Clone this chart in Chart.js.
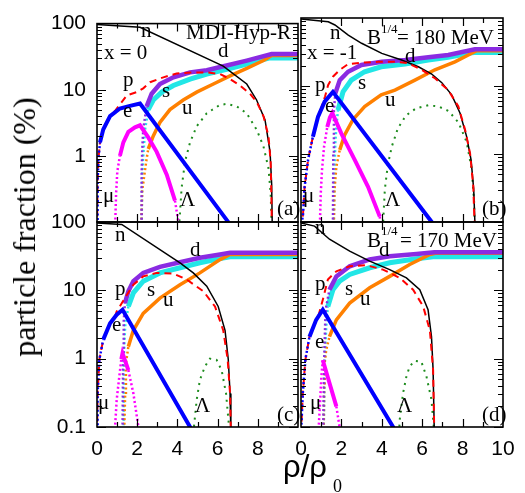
<!DOCTYPE html>
<html>
<head>
<meta charset="utf-8">
<script src="https://cdn.jsdelivr.net/npm/chart.js@4.4.1/dist/chart.umd.min.js"></script>
<style>
  body { margin: 0; background: #fff; }
  #wrap { position: relative; width: 525px; height: 493px; overflow: hidden; font-family: "Liberation Serif", "Times New Roman", serif; }
  #wrap canvas { position: absolute; left: 0; top: 0; }
  .t { position: absolute; white-space: nowrap; line-height: 1; color: #000; }
</style>
</head>
<body>
<div id="wrap">
  <canvas id="cA" width="525" height="493"></canvas>
  <canvas id="cB" width="525" height="493"></canvas>
  <canvas id="cC" width="525" height="493"></canvas>
  <canvas id="cD" width="525" height="493"></canvas>
</div>
<script>
// particle fractions (%) vs rho/rho0, pairs of [rho/rho0, fraction]
// panel (a): MDI-Hyp-R, x = 0, B^1/4 = 180 MeV
const a_n = [[0,97],[2.14,88],[6.28,22.7],[7.45,12.2],[7.94,7.0],[8.36,3.5],[8.61,1.15],[8.69,0.37],[8.72,0.08]];
const a_p = [[0,0.08],[0.03,0.4],[0.07,0.9],[0.15,1.6],[0.31,2.5],[0.65,4],[0.9,4.8],[1.48,8.2],[1.98,9.2],[2.3,10.5],[2.64,13],[3.3,15.4],[3.96,17.6],[4.79,18.3],[5.46,18.3],[6.12,17.3],[6.62,14.5],[7.11,11.6],[7.61,8.7],[7.94,6.6],[8.28,4],[8.53,2.0],[8.64,0.82],[8.68,0.21],[8.7,0.08]];
const a_e = [[0,0.08],[0.03,0.4],[0.07,0.9],[0.15,1.6],[0.31,2.5],[0.65,4],[1.14,5.2],[1.64,5.7],[2.14,6.2],[6.53,0.1],[6.6,0.08]];
const a_mu = [[0.9,0.08],[0.95,0.27],[1.01,0.58],[1.14,1.0],[1.31,1.6],[1.56,2.3],[1.89,2.7],[2.14,2.9],[2.55,1.9],[2.97,1.15],[3.47,0.52],[3.88,0.21],[4.05,0.1],[4.1,0.08]];
const a_lam = [[4.08,0.08],[4.21,0.33],[4.38,0.82],[4.63,1.6],[4.96,2.8],[5.46,4.4],[6.12,5.9],[6.45,6.1],[6.95,5.6],[7.45,4.4],[7.94,2.5],[8.28,1.4],[8.53,0.65],[8.64,0.27],[8.69,0.08]];
const a_d = [[2.2,0.08],[2.22,0.5],[2.25,1.2],[2.3,2.5],[2.47,5.6],[2.72,8.7],[3.13,12.2],[3.8,15.4],[4.63,18.3],[5.46,19.7],[6.45,23.3],[7.45,27.6],[8.69,34.7],[10,34.7]];
const a_s = [[2.22,0.08],[2.25,0.5],[2.3,1.0],[2.39,2.5],[2.55,5],[2.8,7],[3.22,9.2],[3.8,11.6],[4.63,14.5],[5.46,17.3],[6.45,20.4],[7.45,24.5],[8.6,30.3],[10,30.3]];
const a_u = [[2.2,0.08],[2.25,0.3],[2.35,0.5],[2.47,0.91],[2.55,1.27],[2.8,2.0],[3.13,3.2],[3.63,5],[4.29,7],[4.96,9.2],[5.79,12.2],[6.62,16.2],[7.45,21],[8.28,27.6],[8.69,33],[10,33]];

// panel (b): x = -1, B^1/4 = 180 MeV
const b_n = [[0,97],[1.35,88],[1.68,79],[2.34,56],[3.0,42.5],[4.0,30.2],[4.98,24.1],[5.81,19.2],[6.47,15],[6.97,11.2],[7.46,7.4],[7.87,4],[8.2,1.8],[8.42,0.82],[8.55,0.3],[8.62,0.08]];
const b_p = [[0,0.08],[0.1,0.13],[0.18,0.33],[0.35,0.82],[0.59,1.8],[0.84,3.5],[0.93,4.1],[1.19,7],[1.34,10.3],[1.58,13.7],[1.92,17.3],[2.33,21],[3.0,22],[3.83,22.7],[4.65,22.7],[5.31,21.6],[5.98,17.3],[6.63,13],[7.29,8.7],[7.79,5],[8.12,2.3],[8.37,1.02],[8.53,0.33],[8.6,0.08]];
const b_e = [[0,0.08],[0.1,0.13],[0.18,0.33],[0.35,0.82],[0.59,1.8],[0.84,3.5],[1.17,5.9],[1.58,8.2],[6.47,0.1],[6.55,0.08]];
const b_mu = [[0.93,0.08],[0.98,0.27],[1.04,0.58],[1.14,1.27],[1.3,2.5],[1.43,3.45],[1.55,4.0],[2.0,2.0],[2.66,0.82],[3.32,0.33],[3.9,0.12],[3.95,0.08]];
const b_lam = [[4.05,0.08],[4.15,0.3],[4.3,0.7],[4.5,1.3],[4.8,2.4],[5.2,3.7],[5.7,4.7],[6.3,5.2],[6.8,5.0],[7.3,4.3],[7.8,2.9],[8.2,1.5],[8.45,0.6],[8.57,0.2],[8.6,0.08]];
const b_d = [[1.58,0.08],[1.6,1],[1.63,4.4],[1.7,7.8],[1.92,12.2],[2.33,16.2],[2.99,20.4],[4.0,22.7],[5.15,24.1],[6.3,26.4],[7.29,28.5],[8.61,34.7],[10,34.7]];
const b_s = [[1.62,0.08],[1.65,0.5],[1.7,1.5],[1.75,2.5],[1.83,4.4],[2.08,8.2],[2.49,12.2],[3.15,16.2],[3.97,19.2],[5.15,21],[6.3,24.1],[7.29,26.4],[8.45,30.8],[8.6,31],[10,31]];
const b_u = [[1.62,0.08],[1.66,0.3],[1.75,0.65],[1.92,1.15],[2.16,1.9],[2.57,3.2],[3.15,5],[3.97,7.4],[4.65,8.7],[5.64,12.2],[6.63,17.3],[7.62,22.7],[8.45,30.3],[8.7,33],[10,33]];

// panel (c): x = 0, B_d^1/4 = 170 MeV
const c_n = [[0,97],[1.23,92],[4.13,25.3],[4.79,18],[5.46,11.5],[6.03,5.8],[6.37,2.6],[6.53,0.98],[6.62,0.31],[6.66,0.08]];
const c_p = [[0,0.08],[0.03,0.31],[0.12,0.98],[0.31,1.9],[0.65,3.3],[0.88,4.0],[0.98,4.9],[1.39,7.7],[1.81,12.1],[2.3,16],[2.97,18],[3.8,17.6],[4.46,14.4],[5.29,9.7],[5.87,5.8],[6.28,2.6],[6.5,0.98],[6.62,0.31],[6.66,0.08]];
const c_e = [[0,0.08],[0.03,0.31],[0.12,0.98],[0.31,1.9],[0.65,3.3],[0.98,4.4],[1.27,5.2],[4.63,0.1],[4.7,0.08]];
const c_mu = [[0.88,0.08],[0.98,0.25],[1.11,0.55],[1.21,0.98],[1.27,1.2],[1.56,0.68],[1.81,0.31],[2.06,0.1],[2.08,0.08]];
const c_lam = [[4.79,0.08],[4.96,0.25],[5.12,0.49],[5.37,0.77],[5.62,1.0],[5.95,0.96],[6.2,0.68],[6.42,0.31],[6.6,0.08]];
const c_d = [[1.27,0.08],[1.3,1],[1.33,3.5],[1.39,6.5],[1.56,9.7],[1.81,13.6],[2.3,18],[3.13,22],[4.13,25.8],[5.12,30],[6.12,33.5],[6.62,35.5],[10,35.5]];
const c_s = [[1.3,0.08],[1.33,1],[1.4,3],[1.56,5.8],[1.81,9.2],[2.3,13.6],[3.13,18],[4.13,21.4],[5.12,25.3],[6.12,29.2],[6.62,31],[10,31]];
const c_u = [[1.35,0.08],[1.4,0.3],[1.44,0.86],[1.56,1.5],[1.81,2.6],[2.3,4.6],[3.13,7.7],[4.13,12.1],[5.12,18],[6.12,28.2],[6.62,33.5],[10,33.5]];

// panel (d): x = -1, B_d^1/4 = 170 MeV
const d_n = [[0,97],[0.67,87],[1.41,56],[2.41,37.5],[3.4,26.7],[4.39,20.1],[5.22,15.2],[5.88,10.2],[6.29,5.2],[6.46,2.1],[6.54,0.68],[6.6,0.08]];
const d_p = [[0,0.08],[0.09,0.31],[0.22,0.98],[0.42,2.1],[0.75,3.7],[0.86,4.2],[1.08,7.3],[1.33,14.4],[1.75,19],[2.41,22.5],[3.24,23.3],[4.06,20.1],[4.89,15.2],[5.55,10.2],[6.05,5.8],[6.38,2.6],[6.54,0.68],[6.6,0.08]];
const d_e = [[0,0.08],[0.09,0.31],[0.22,0.98],[0.42,2.1],[0.75,3.7],[1.08,5.2],[4.56,0.1],[4.62,0.08]];
const d_mu = [[0.86,0.08],[0.95,0.25],[1.01,0.55],[1.08,0.95],[1.41,0.44],[1.75,0.2],[1.91,0.1],[1.93,0.08]];
const d_lam = [[4.85,0.08],[4.89,0.13],[5.05,0.31],[5.22,0.55],[5.38,0.77],[5.63,0.93],[5.96,0.9],[6.21,0.55],[6.46,0.25],[6.6,0.08]];
const d_d = [[1.1,0.08],[1.15,1],[1.2,3.5],[1.25,5.8],[1.41,10.2],[1.75,16],[2.41,22.5],[3.4,28.3],[4.39,31.6],[5.72,34],[6.6,36],[10,36]];
const d_s = [[1.12,0.08],[1.18,1],[1.25,3],[1.33,5.8],[1.58,10.2],[1.91,13.6],[2.41,17.1],[3.4,21.4],[4.39,25.3],[5.72,29],[6.54,31],[10,31]];
const d_u = [[1.12,0.08],[1.15,0.4],[1.17,0.86],[1.25,1.35],[1.41,2.1],[1.75,3.7],[2.41,6.5],[3.4,10.9],[4.39,16],[5.38,23.9],[6.38,33.5],[6.7,35],[10,35]];

const xTicks = [0, 2, 4, 6, 8, 10];
const yTicks = [0.1, 1, 10, 100];

// looks per species, first drawn on top
const looks = {
  e:   { color: '#0000ff', width: 4,   steep: true },
  p:   { color: '#ff0000', width: 2,   dash: [7, 5] },
  n:   { color: '#000000', width: 1.5 },
  mu:  { color: '#ff00ff', width: 4,   steep: true },
  d:   { color: '#8a2be2', width: 4.5, steep: true },
  u:   { color: '#ff8000', width: 3.5, steep: true },
  s:   { color: '#22e6e6', width: 5,   steep: true },
  lam: { color: '#1e8c1e', width: 2,   dash: [2, 5] }
};

// near-vertical pieces show up as a column of dots in the original
const isSteep = c => {
  const dx = Math.abs(c.p1.x - c.p0.x), dy = Math.abs(c.p1.y - c.p0.y);
  return dy > 8 && dy > 4 * dx;
};
const steepSeg = {
  borderDash: c => isSteep(c) ? [2, 2.5] : undefined,
  borderWidth: c => isSteep(c) ? 2.5 : undefined
};

const frameTicks = {
  id: 'frameTicks',
  afterDraw(chart) {
    const { ctx, chartArea: a, scales: { x, y } } = chart;
    ctx.save();
    ctx.strokeStyle = '#000';
    ctx.lineWidth = 1.2;
    ctx.beginPath();
    for (let d = -1; d <= 1; d++) {
      for (let k = 1; k <= 9; k++) {
        const v = k * Math.pow(10, d);
        const py = Math.round(y.getPixelForValue(v)) + 0.5, len = k === 1 ? 9 : 5;
        ctx.moveTo(a.left, py); ctx.lineTo(a.left + len, py);
        ctx.moveTo(a.right, py); ctx.lineTo(a.right - len, py);
      }
    }
    for (let v = 1; v < 10; v++) {
      const px = Math.round(x.getPixelForValue(v)) + 0.5, len = v % 2 ? 5 : 8;
      ctx.moveTo(px, a.bottom); ctx.lineTo(px, a.bottom - len);
      ctx.moveTo(px, a.top); ctx.lineTo(px, a.top + len);
    }
    ctx.stroke();
    ctx.lineWidth = 1.6;
    ctx.strokeRect(a.left, a.top, a.right - a.left, a.bottom - a.top);
    ctx.restore();
  }
};

const tickFont = { family: '"Liberation Sans", Arial, sans-serif', size: 21 };

function makePanel(id, curves, opt) {
  const order = ['e', 'p', 'n', 'mu', 'd', 'u', 's', 'lam'];
  const datasets = order.map(k => {
    const L = looks[k];
    return {
      label: k,
      data: curves[k].map(([x, y]) => ({ x, y })),
      borderColor: L.color,
      borderWidth: L.width,
      borderDash: L.dash || [],
      pointRadius: 0,
      tension: 0,
      fill: false,
      clip: 0,
      segment: L.steep ? steepSeg : {}
    };
  });
  return new Chart(document.getElementById(id), {
    type: 'line',
    data: { datasets },
    options: {
      responsive: false,
      animation: false,
      events: [],
      layout: { padding: opt.pad },
      plugins: { legend: { display: false }, tooltip: { enabled: false } },
      scales: {
        x: {
          type: 'linear', min: 0, max: 10,
          display: opt.xLabels,
          afterBuildTicks: s => { s.ticks = xTicks.map(v => ({ value: v })); },
          afterFit: s => { s.height = opt.xLabels ? 66 : 0; },
          grid: { display: false, drawTicks: false },
          border: { display: false },
          ticks: {
            font: tickFont, color: '#000', padding: 10, maxRotation: 0, autoSkip: false,
            callback: v => (opt.hide10 && v === 10) ? '' : String(v)
          }
        },
        y: {
          type: 'logarithmic', min: 0.1, max: 100,
          display: opt.yLabels,
          afterBuildTicks: s => { s.ticks = yTicks.map(v => ({ value: v })); },
          afterFit: s => { s.width = opt.yLabels ? 97 : 0; },
          grid: { display: false, drawTicks: false },
          border: { display: false },
          ticks: {
            font: tickFont, color: '#000', padding: 11, autoSkip: false,
            callback: v => (opt.hide01 && v === 0.1) ? '' : String(v)
          }
        }
      }
    },
    plugins: [frameTicks]
  });
}

makePanel('cA', { n: a_n, p: a_p, e: a_e, mu: a_mu, lam: a_lam, d: a_d, s: a_s, u: a_u },
  { pad: { left: 0, top: 18, right: 227, bottom: 271 }, xLabels: false, yLabels: true, hide01: true });
makePanel('cB', { n: b_n, p: b_p, e: b_e, mu: b_mu, lam: b_lam, d: b_d, s: b_s, u: b_u },
  { pad: { left: 301, top: 18, right: 22, bottom: 271 }, xLabels: false, yLabels: false });
makePanel('cC', { n: c_n, p: c_p, e: c_e, mu: c_mu, lam: c_lam, d: c_d, s: c_s, u: c_u },
  { pad: { left: 0, top: 222, right: 227, bottom: 0 }, xLabels: true, yLabels: true, hide10: true });
makePanel('cD', { n: d_n, p: d_p, e: d_e, mu: d_mu, lam: d_lam, d: d_d, s: d_s, u: d_u },
  { pad: { left: 301, top: 222, right: 22, bottom: 0 }, xLabels: true, yLabels: false });

// text: [text, left, baseline, size, font]
const serif = '"Liberation Serif", "Times New Roman", serif';
const sans = '"Liberation Sans", Arial, sans-serif';
const notes = [
  ['n', 141, 38, 21], ['MDI-Hyp-R', 186, 40, 21], ['x = 0', 104, 60, 21], ['d', 218, 58, 21],
  ['p', 123, 87, 21], ['s', 162, 98, 21], ['u', 182, 115, 21], ['e', 123, 118, 21],
  ['μ', 103, 203, 21], ['Λ', 180, 207, 21], ['(a)', 277, 216, 21],
  ['n', 330, 40, 21], ['x = -1', 307, 60, 21], ['d', 405, 63, 21], ['p', 315, 92, 21],
  ['e', 325, 113, 21], ['s', 358, 90, 21], ['u', 385, 107, 21], ['μ', 303, 203, 21],
  ['Λ', 385, 207, 21], ['(b)', 482, 216, 21],
  ['B', 367, 45, 21], ['1/4', 381, 33, 13], ['= 180 MeV', 397, 45, 21],
  ['n', 115, 242, 21], ['d', 190, 257, 21], ['p', 115, 296, 21], ['s', 147, 297, 21],
  ['u', 163, 307, 21], ['e', 112, 332, 21], ['μ', 98, 410, 21], ['Λ', 195, 413, 21],
  ['(c)', 277, 422, 21],
  ['n', 315, 235, 21], ['p', 315, 291, 21], ['s', 345, 296, 21], ['u', 360, 306, 21],
  ['e', 315, 349, 21], ['μ', 310, 410, 21], ['Λ', 397, 413, 21], ['(d)', 482, 422, 21],
  ['B', 367, 248, 21], ['1/4', 381, 235, 13], ['d', 379, 257, 21], ['= 170 MeV', 400, 248, 21],
  ['ρ/ρ', 283, 478, 31, sans], ['0', 333, 492, 18]
];
const wrap = document.getElementById('wrap');
notes.forEach(([txt, left, base, size, fam]) => {
  const el = document.createElement('div');
  el.className = 't';
  el.textContent = txt;
  el.style.fontFamily = fam || serif;
  el.style.fontSize = size + 'px';
  el.style.left = left + 'px';
  el.style.top = (base - Math.round(size * (fam ? 0.86 : 0.84))) + 'px';
  wrap.appendChild(el);
});
const ytitle = document.createElement('div');
ytitle.className = 't';
ytitle.textContent = 'particle fraction (%)';
ytitle.style.cssText += 'font-size:32px;left:24px;top:227px;transform:translate(-50%,-50%) rotate(-90deg);';
wrap.appendChild(ytitle);
</script>
</body>
</html>
